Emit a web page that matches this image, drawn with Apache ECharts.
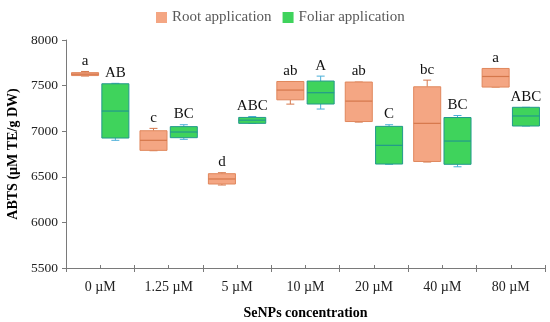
<!DOCTYPE html>
<html>
<head>
<meta charset="utf-8">
<script src="https://cdn.jsdelivr.net/npm/echarts@6/dist/echarts.min.js"></script>
<style>html,body{margin:0;padding:0;background:#fff}#c{width:550px;height:322px}</style>
</head>
<body>
<div id="c"></div>
<script>
const categories = ['0 µM','1.25 µM','5 µM','10 µM','20 µM','40 µM','80 µM'];
const yTicks = [5500, 6000, 6500, 7000, 7500, 8000];

const rootMin = [7605, 6786, 6410, 7297, 7100, 6662, 7484];
const rootQ1  = [7610, 6790, 6421, 7344, 7106, 6668, 7484];
const rootMed = [7625, 6900, 6476, 7451, 7330, 7086, 7600];
const rootQ3  = [7642, 7005, 6534, 7545, 7539, 7487, 7688];
const rootMax = [7655, 7031, 6545, 7545, 7539, 7560, 7688];
const rootLetters = ['a','c','d','ab','ab','bc','a'];

const foliarMin = [6900, 6911, 7086, 7243, 6637, 6610, 7057];
const foliarQ1  = [6925, 6929, 7086, 7298, 6640, 6637, 7057];
const foliarMed = [7221, 6991, 7121, 7422, 6845, 6892, 7167];
const foliarQ3  = [7520, 7050, 7151, 7550, 7053, 7150, 7262];
const foliarMax = [7525, 7071, 7161, 7604, 7071, 7172, 7262];
const foliarLetters = ['AB','BC','ABC','A','C','BC','ABC'];

const FONT = 'Liberation Serif';

function build(mins, q1s, meds, q3s, maxs) {
  return categories.map((c, i) => [i, mins[i], q1s[i], meds[i], q3s[i], maxs[i]]);
}

function makeRender(offsetFrac, letters, sty) {
  return function (params, api) {
    const i = api.value(0);
    const bw = api.size([1, 0])[0];
    const cx = api.coord([i, 0])[0] + offsetFrac * bw;
    const w = 0.395 * bw;
    const cap = 8;
    const yMin = api.coord([i, api.value(1)])[1];
    const yQ1 = api.coord([i, api.value(2)])[1];
    const yMed = api.coord([i, api.value(3)])[1];
    const yQ3 = api.coord([i, api.value(4)])[1];
    const yMax = api.coord([i, api.value(5)])[1];
    const wl = {stroke: sty.whisker, lineWidth: 1};
    return {
      type: 'group',
      children: [
        {type: 'line', shape: {x1: cx, y1: yMax, x2: cx, y2: yQ3}, style: wl},
        {type: 'line', shape: {x1: cx, y1: yQ1, x2: cx, y2: yMin}, style: wl},
        {type: 'line', shape: {x1: cx - cap / 2, y1: yMax, x2: cx + cap / 2, y2: yMax}, style: wl},
        {type: 'line', shape: {x1: cx - cap / 2, y1: yMin, x2: cx + cap / 2, y2: yMin}, style: wl},
        {type: 'rect', shape: {x: cx - w / 2, y: yQ3, width: w, height: Math.max(yQ1 - yQ3, 1.5)},
          style: {fill: sty.fill, stroke: sty.stroke, lineWidth: 1}},
        {type: 'line', shape: {x1: cx - w / 2, y1: yMed, x2: cx + w / 2, y2: yMed},
          style: {stroke: sty.median, lineWidth: 1.2}},
        {type: 'text', x: cx, y: yMax - 3,
          style: {text: letters[params.dataIndex], fill: '#111', font: '15px "' + FONT + '"',
            align: 'center', verticalAlign: 'bottom'}}
      ]
    };
  };
}

const rootStyle = {fill: '#F4A683', stroke: '#E0875C', median: '#D5774B', whisker: '#D5774B'};
const foliarStyle = {fill: '#3FD35C', stroke: '#22998C', median: '#22998C', whisker: '#4AAFD8'};

const chart = echarts.init(document.getElementById('c'));
chart.setOption({
  animation: false,
  backgroundColor: '#fff',
  legend: {
    left: 151, top: 5,
    icon: 'rect', itemWidth: 11, itemHeight: 11, itemGap: 11,
    textStyle: {fontFamily: FONT, fontSize: 15, color: '#595959'},
    data: ['Root application', 'Foliar application']
  },
  grid: {left: 66, right: 5, top: 40, bottom: 54, outerBoundsMode: 'none', containLabel: false},
  xAxis: [{
    type: 'category', data: categories, boundaryGap: true,
    axisLine: {lineStyle: {color: '#7a7a7a'}},
    axisTick: {show: true, length: 4, lineStyle: {color: '#7a7a7a'}},
    axisLabel: {fontFamily: FONT, fontSize: 14, color: '#222', margin: 12},
    name: 'SeNPs concentration', nameLocation: 'middle', nameGap: 38,
    nameTextStyle: {fontFamily: FONT, fontSize: 14, fontWeight: 'bold', color: '#000'}
  }, {
    type: 'category', data: categories.concat(categories).map((c, k) => String(k)), boundaryGap: true,
    position: 'bottom',
    axisLine: {show: false},
    axisTick: {show: true, inside: true, length: 3, lineStyle: {color: '#7a7a7a'}},
    axisLabel: {show: false}
  }],
  yAxis: {
    type: 'value', min: yTicks[0], max: yTicks[yTicks.length - 1], interval: 500,
    splitLine: {show: false},
    axisLine: {show: true, lineStyle: {color: '#7a7a7a'}},
    axisTick: {show: true, length: 4, lineStyle: {color: '#7a7a7a'}},
    axisLabel: {fontFamily: FONT, fontSize: 13.5, color: '#222', margin: 8, formatter: v => String(v)},
    name: 'ABTS (µM TE/g DW)', nameLocation: 'middle', nameGap: 45, nameRotate: 90,
    nameTextStyle: {fontFamily: FONT, fontSize: 14, fontWeight: 'bold', color: '#000'}
  },
  series: [{
    name: 'Root application', type: 'custom',
    itemStyle: {color: rootStyle.fill},
    encode: {x: 0, y: [1, 2, 3, 4, 5]},
    renderItem: makeRender(-0.2215, rootLetters, rootStyle),
    data: build(rootMin, rootQ1, rootMed, rootQ3, rootMax)
  }, {
    name: 'Foliar application', type: 'custom',
    itemStyle: {color: foliarStyle.fill},
    encode: {x: 0, y: [1, 2, 3, 4, 5]},
    renderItem: makeRender(0.2215, foliarLetters, foliarStyle),
    data: build(foliarMin, foliarQ1, foliarMed, foliarQ3, foliarMax)
  }]
});
</script>
</body>
</html>
